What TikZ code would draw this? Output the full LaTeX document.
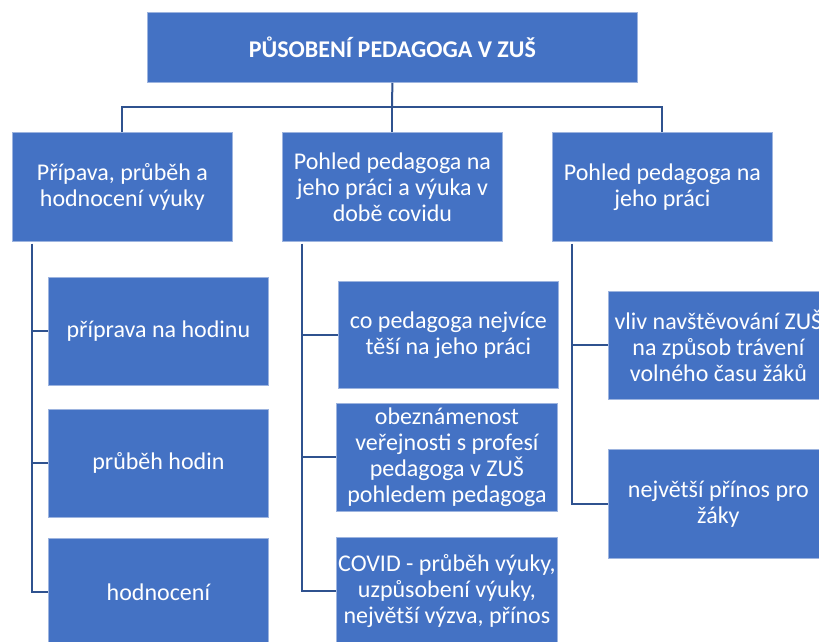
\documentclass[tikz,border=0pt]{standalone}
\usepackage{fontspec}
\setmainfont{Carlito}
\definecolor{boxblue}{HTML}{4472C4}
\definecolor{linkblue}{HTML}{2F528F}
\definecolor{edgeblue}{HTML}{9DB4DF}
\tikzset{
  bx/.style={anchor=north west, fill=boxblue, draw=edgeblue, line width=0.8pt, inner sep=0pt,
    text=white, align=center, font=\fontsize{24}{26}\selectfont},
  link/.style={draw=linkblue, line width=2pt}
}
\begin{document}
\begin{tikzpicture}[x=1pt,y=-1pt]
\useasboundingbox (0,0) rectangle (819,641);
\clip (0,0) rectangle (819,641);
\node[bx, minimum width=490pt, minimum height=70pt, font=\fontsize{24}{26}\selectfont\bfseries] (T) at (147,12) {PŮSOBENÍ PEDAGOGA V ZUŠ};
\node[bx, minimum width=220pt, minimum height=109pt] (L) at (12,132) {Přípava, průběh a\\hodnocení výuky};
\node[bx, minimum width=220pt, minimum height=109pt] (M) at (282,132) {Pohled pedagoga na\\jeho práci a výuka v\\době covidu};
\node[bx, minimum width=220pt, minimum height=109pt] (R) at (552,132) {Pohled pedagoga na\\jeho práci};
\node[bx, minimum width=220pt, minimum height=108pt] (L1) at (48,277) {příprava na hodinu};
\node[bx, minimum width=220pt, minimum height=108pt] (L2) at (48,409) {průběh hodin};
\node[bx, minimum width=220pt, minimum height=108pt] (L3) at (48,538) {hodnocení};
\node[bx, minimum width=220pt, minimum height=107pt] (M1) at (338,281) {co pedagoga nejvíce\\těší na jeho práci};
\node[bx, minimum width=221pt, minimum height=108pt] (M2) at (336,403) {obeznámenost\\veřejnosti s profesí\\pedagoga v ZUŠ\\pohledem pedagoga};
\node[bx, minimum width=221pt, minimum height=108pt] (M3) at (336,537) {COVID - průběh výuky,\\uzpůsobení výuky,\\největší výzva, přínos};
\node[bx, minimum width=220pt, minimum height=108pt] (R1) at (608,291) {vliv navštěvování ZUŠ\\na způsob trávení\\volného času žáků};
\node[bx, minimum width=220pt, minimum height=109pt] (R2) at (608,449) {největší přínos pro\\žáky};
\coordinate (hub) at (392,107);
\draw[link] (T.south) -- (hub);
\draw[link] (hub) -| (L.north);
\draw[link] (hub) -| (M.north);
\draw[link] (hub) -| (R.north);
\foreach \p/\c in {L/L1,L/L2,L/L3,M/M1,M/M2,M/M3,R/R1,R/R2}{
  \draw[link] ([xshift=20pt,yshift=-2pt]\p.south west) |- (\c.west);
}
\end{tikzpicture}
\end{document}
